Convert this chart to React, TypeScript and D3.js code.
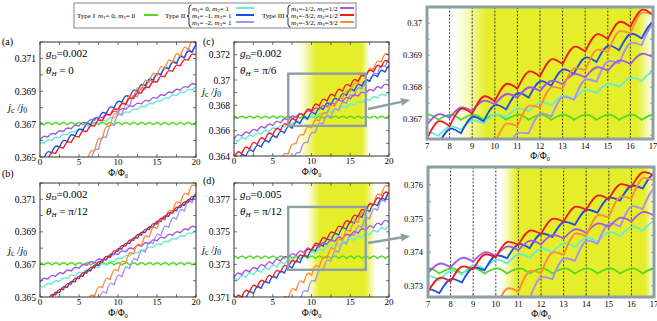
import React from 'react';
import * as d3 from 'd3';

const FONT = 'Liberation Serif, Times New Roman, serif';

// series order: Type I (m1=0,m2=0), Type II (0,1), (-1,1), (-2,1), Type III (-1/2,1/2), (-3/2,1/2), (-3/2,3/2)
const SERIES_NAMES = ['I_00', 'II_01', 'II_m11', 'II_m21', 'III_h', 'III_3h', 'III_33'];
const COLORS = ['#4fdc1f', '#66ecd4', '#1f4ee6', '#a392f4', '#a456e6', '#ee1c1c', '#ff8b3a'];
// cusps at half-integer flux (Φ = -0.5, 0.5, ...) for Type I/II, at integer flux (Φ = 0, 1, ...) for Type III
const HALF_STEP = [true, true, true, true, false, false, false];

// ---------- panel (a): gD=0.002, θH=0 ----------
const aGreen = [0.36696, 0.36696, 0.36696, 0.36696, 0.36696, 0.36696, 0.36696, 0.36696, 0.36696, 0.36696, 0.36696, 0.36696, 0.36696, 0.36696, 0.36696, 0.36696, 0.36696, 0.36696, 0.36696, 0.36696, 0.36696, 0.36696];
const aCyan = [0.36567, 0.36584, 0.36601, 0.36618, 0.36635, 0.36652, 0.3667, 0.36687, 0.36704, 0.36721, 0.36738, 0.36755, 0.36772, 0.36789, 0.36806, 0.36823, 0.3684, 0.36858, 0.36875, 0.36892, 0.36909, 0.36926];
const aBlue = [0.36458, 0.36492, 0.36526, 0.3656, 0.36594, 0.36628, 0.36662, 0.36696, 0.3673, 0.36764, 0.36798, 0.36832, 0.36866, 0.369, 0.36934, 0.36968, 0.37002, 0.37036, 0.3707, 0.37104, 0.37138, 0.37172];
const aLavender = [null, null, null, null, null, null, null, 0.36472, 0.36547, 0.36621, 0.36694, 0.36757, 0.36811, 0.36866, 0.36911, 0.36954, 0.36994, 0.37034, 0.37067, 0.37101, 0.37135, 0.37168];
const aPurple = [0.36605, 0.36622, 0.36639, 0.36655, 0.36672, 0.36689, 0.36706, 0.36723, 0.36739, 0.36756, 0.36773, 0.3679, 0.36807, 0.36823, 0.3684, 0.36857, 0.36874, 0.36891, 0.36907, 0.36924, 0.36941];
const aRed = [0.36455, 0.36488, 0.36522, 0.36555, 0.36589, 0.36622, 0.36655, 0.36689, 0.36722, 0.36756, 0.36789, 0.36822, 0.36856, 0.36889, 0.36923, 0.36956, 0.36989, 0.37023, 0.37056, 0.3709, 0.37123];
const aOrange = [null, null, null, null, null, null, 0.36464, 0.36539, 0.36614, 0.36689, 0.36764, 0.3682, 0.36864, 0.36909, 0.36954, 0.36994, 0.37034, 0.37074, 0.37114, 0.37152, 0.37189];
const aBump = [0.00014, 0.00011, 0.00024, 0.00036, 0.00013, 0.0002, 0.00036];

// ---------- panel (b): gD=0.002, θH=π/12 ----------
const bGreen = [0.36697, 0.36697, 0.36697, 0.36697, 0.36697, 0.36697, 0.36697, 0.36697, 0.36697, 0.36697, 0.36697, 0.36697, 0.36697, 0.36697, 0.36697, 0.36697, 0.36697, 0.36697, 0.36697, 0.36697, 0.36697, 0.36697];
const bCyan = [0.36544, 0.36562, 0.36579, 0.36596, 0.36614, 0.36631, 0.36648, 0.36666, 0.36683, 0.367, 0.36717, 0.36735, 0.36752, 0.36769, 0.36787, 0.36804, 0.36821, 0.36839, 0.36856, 0.36873, 0.3689, 0.36908];
const bBlue = [0.36426, 0.3646, 0.36493, 0.36527, 0.3656, 0.36594, 0.36627, 0.36661, 0.36694, 0.36728, 0.36761, 0.36795, 0.36829, 0.36862, 0.36896, 0.36929, 0.36963, 0.36996, 0.3703, 0.37063, 0.37097, 0.3713];
const bLavender = [null, null, null, null, null, null, null, null, 0.36474, 0.36524, 0.36575, 0.36625, 0.36675, 0.36726, 0.36776, 0.36827, 0.36877, 0.36927, 0.36978, 0.37028, 0.37079, 0.37129];
const bPurple = [0.36593, 0.3661, 0.36627, 0.36643, 0.3666, 0.36677, 0.36694, 0.36711, 0.36727, 0.36744, 0.36761, 0.36778, 0.36795, 0.36811, 0.36828, 0.36845, 0.36862, 0.36879, 0.36895, 0.36912, 0.36929];
const bRed = [0.36446, 0.36479, 0.36513, 0.36546, 0.3658, 0.36613, 0.36647, 0.3668, 0.36714, 0.36747, 0.36781, 0.36814, 0.36848, 0.36881, 0.36915, 0.36948, 0.36982, 0.37015, 0.37049, 0.37082, 0.37116];
const bOrange = [null, null, null, null, null, null, 0.36452, 0.36504, 0.36556, 0.36608, 0.3666, 0.36712, 0.36764, 0.36816, 0.36868, 0.3692, 0.36972, 0.37024, 0.37076, 0.37128, 0.3718];
const bBump = [0.00013, 0.00012, 0.00019, 0.00034, 0.00014, 0.00019, 0.00034];

// ---------- panel (c): gD=0.002, θH=π/6 ----------
const cGreen = [0.36698, 0.36698, 0.36698, 0.36698, 0.36698, 0.36698, 0.36698, 0.36698, 0.36698, 0.36698, 0.36698, 0.36698, 0.36698, 0.36698, 0.36698, 0.36698, 0.36698, 0.36698, 0.36698, 0.36698, 0.36698, 0.36698];
const cCyan = [0.36496, 0.36515, 0.36534, 0.36553, 0.36572, 0.36591, 0.3661, 0.36629, 0.36648, 0.36667, 0.36686, 0.36705, 0.36724, 0.36743, 0.36762, 0.36781, 0.368, 0.36819, 0.36838, 0.36857, 0.36876, 0.36895];
const cBlue = [0.36323, 0.3636, 0.36397, 0.36434, 0.36471, 0.36508, 0.36545, 0.36582, 0.36619, 0.36656, 0.36693, 0.3673, 0.36767, 0.36804, 0.36841, 0.36878, 0.36915, 0.36952, 0.36989, 0.37026, 0.37063, 0.371];
const cLavender = [null, null, null, null, null, null, null, null, 0.36348, 0.36428, 0.36508, 0.36588, 0.36656, 0.36708, 0.3676, 0.36817, 0.36874, 0.36931, 0.36989, 0.37047, 0.37105, 0.37163];
const cPurple = [0.36536, 0.36557, 0.36578, 0.36599, 0.3662, 0.36641, 0.36662, 0.36683, 0.36704, 0.36725, 0.36746, 0.36767, 0.36788, 0.36809, 0.3683, 0.36851, 0.36872, 0.36893, 0.36914, 0.36935, 0.36956];
const cRed = [0.3638, 0.36417, 0.36454, 0.36491, 0.36528, 0.36565, 0.36602, 0.36639, 0.36678, 0.36717, 0.36756, 0.36795, 0.36833, 0.36872, 0.36911, 0.3695, 0.36988, 0.37025, 0.37063, 0.37101, 0.37139];
const cOrange = [null, null, null, null, null, null, 0.36348, 0.36418, 0.36498, 0.36568, 0.36623, 0.36678, 0.36736, 0.36794, 0.36852, 0.3691, 0.36968, 0.37026, 0.37084, 0.37142, 0.372];
const cBump = [0.00016, 0.0002, 0.00033, 0.00036, 0.00022, 0.00035, 0.00036];

// ---------- panel (d): gD=0.005, θH=π/12 ----------
const dGreen = [0.37337, 0.37337, 0.37337, 0.37337, 0.37337, 0.37337, 0.37337, 0.37337, 0.37337, 0.37337, 0.37337, 0.37337, 0.37337, 0.37337, 0.37337, 0.37337, 0.37337, 0.37337, 0.37337, 0.37337, 0.37337, 0.37337];
const dCyan = [0.37187, 0.37203, 0.3722, 0.37236, 0.37252, 0.37268, 0.37285, 0.37301, 0.37317, 0.37334, 0.3735, 0.37366, 0.37383, 0.37399, 0.37415, 0.37431, 0.37448, 0.37464, 0.3748, 0.37497, 0.37513, 0.37529];
const dBlue = [0.37028, 0.37059, 0.3709, 0.37122, 0.37153, 0.37184, 0.37216, 0.37247, 0.37278, 0.3731, 0.37346, 0.37382, 0.37412, 0.37445, 0.37481, 0.37517, 0.37553, 0.37589, 0.37625, 0.37661, 0.37697, 0.37733];
const dLavender = [null, null, null, null, null, null, null, null, null, 0.37073, 0.37133, 0.37198, 0.37263, 0.3732, 0.37374, 0.37425, 0.37476, 0.37528, 0.3758, 0.37633, 0.37686, 0.37739];
const dPurple = [0.37219, 0.37236, 0.37253, 0.3727, 0.37287, 0.37304, 0.37321, 0.37338, 0.37355, 0.37372, 0.37389, 0.37406, 0.37423, 0.3744, 0.37457, 0.37474, 0.37491, 0.37508, 0.37525, 0.37542, 0.37559];
const dRed = [0.37068, 0.37099, 0.3713, 0.3716, 0.37191, 0.37221, 0.37252, 0.37282, 0.37313, 0.37349, 0.37385, 0.37422, 0.37454, 0.37491, 0.37526, 0.37557, 0.37593, 0.37628, 0.37664, 0.377, 0.37736];
const dOrange = [null, null, null, null, null, null, 0.37045, 0.37093, 0.3714, 0.37188, 0.37233, 0.37283, 0.37338, 0.37393, 0.37448, 0.37503, 0.37558, 0.37613, 0.37668, 0.37723, 0.37778];
const dBump = [0.00015, 0.0002, 0.00027, 0.00035, 0.0002, 0.00027, 0.00035];

// shaded (yellow) flux window: [fade-in start, full, full end, fade-out end]
const cShade = [8.2, 10.6, 16.5, 17.5];
const dShade = [9.3, 11.0, 16.9, 18.3];
const cZoomShade = [8.2, 9.6, 16.3, 17.0];
const dZoomShade = [10.2, 10.9, 16.6, 17.0];

// ticks
const X_TICKS = [0, 5, 10, 15, 20];
const AB_Y_TICKS = [0.365, 0.367, 0.369, 0.371];
const C_Y_TICKS = [0.364, 0.366, 0.368, 0.37, 0.372];
const D_Y_TICKS = [0.371, 0.373, 0.375, 0.377];
const ZOOM_X_TICKS = [7, 8, 9, 10, 11, 12, 13, 14, 15, 16, 17];
const ZOOM_C_Y_TICKS = [0.367, 0.368, 0.369, 0.37];
const ZOOM_D_Y_TICKS = [0.373, 0.374, 0.375, 0.376];
const DOTTED = [8, 9, 10, 11, 12, 13, 14, 15, 16];

const fmt = (v: number) => String(+v.toFixed(3));

function seriesPath(values: (number | null)[], half: boolean, bump: number, x: any, y: any) {
  const start = half ? -0.5 : 0;
  const line = d3.line<[number, number]>().x(d => x(d[0])).y(d => y(d[1])).curve(d3.curveMonotoneX);
  let path = '';
  for (let i = 0; i < values.length - 1; i++) {
    const c0 = values[i];
    const c1 = values[i + 1];
    if (c0 == null || c1 == null) continue;
    const x0 = start + i;
    const pts: [number, number][] = [[x0, c0], [x0 + 0.56, (c0 + c1) / 2 + bump], [x0 + 1, c1]];
    path += line(pts) || '';
  }
  return path;
}

const DRAW_ORDER = [0, 1, 3, 2, 4, 6, 5];

function Curves({ data, bumps, x, y, width, clip }: any) {
  return (
    <g clipPath={`url(#${clip})`}>
      {DRAW_ORDER.map(k => (
        <path key={SERIES_NAMES[k]} d={seriesPath(data[k], HALF_STEP[k], bumps[k], x, y)} fill="none"
          stroke={COLORS[k]} strokeWidth={width} strokeLinejoin="round" strokeLinecap="round" />
      ))}
    </g>
  );
}

function Shade({ id, stops, x, top, bottom }: any) {
  const x0 = x(stops[0]);
  const x3 = x(stops[3]);
  const w = x3 - x0;
  const o1 = (x(stops[1]) - x0) / w;
  const o2 = (x(stops[2]) - x0) / w;
  const col = '#e6ee2c';
  return (
    <g>
      <defs>
        <linearGradient id={id} x1="0" x2="1" y1="0" y2="0">
          <stop offset="0" stopColor={col} stopOpacity={0} />
          <stop offset={o1 * 0.45} stopColor={col} stopOpacity={0.35} />
          <stop offset={o1} stopColor={col} stopOpacity={1} />
          <stop offset={o2} stopColor={col} stopOpacity={1} />
          <stop offset="1" stopColor={col} stopOpacity={0} />
        </linearGradient>
      </defs>
      <rect x={x0} y={top} width={w} height={bottom - top} fill={`url(#${id})`} />
    </g>
  );
}

function Jc({ x, y }: any) {
  return (
    <text x={x} y={y} fontFamily={FONT} fontSize={11}>
      <tspan fontStyle="italic">j</tspan>
      <tspan fontSize={7.5} dy={2}>c</tspan>
      <tspan dy={-2}> /</tspan>
      <tspan fontStyle="italic">j</tspan>
      <tspan fontSize={7.5} dy={2}>0</tspan>
    </text>
  );
}

function PhiLabel({ x, y, size }: any) {
  return (
    <text x={x} y={y} fontFamily={FONT} fontSize={size} textAnchor="middle">
      <tspan>Φ/Φ</tspan>
      <tspan fontSize={size * 0.65} dy={2}>0</tspan>
    </text>
  );
}

function Params({ x, y, g, theta }: any) {
  return (
    <g fontFamily={FONT} fontSize={11}>
      <text x={x} y={y}>
        <tspan fontStyle="italic">g</tspan>
        <tspan fontSize={7} dy={2}>D</tspan>
        <tspan dy={-2}>={g}</tspan>
      </text>
      <text x={x} y={y + 17}>
        <tspan fontStyle="italic">θ</tspan>
        <tspan fontSize={7} dy={2} fontStyle="italic">H</tspan>
        <tspan dy={-2}> = {theta}</tspan>
      </text>
    </g>
  );
}

function MainPanel({ id, left, right, top, bottom, yDomain, data, bumps, yTicks, shade, inset, label, g, theta, labelY }: any) {
  const x = d3.scaleLinear().domain([0, 20]).range([left, right]);
  const y = d3.scaleLinear().domain(yDomain).range([bottom, top]);
  const minorY = d3.range(Math.ceil(yDomain[0] * 1000 - 1e-6), yDomain[1] * 1000 + 1e-6, 1).map(v => v / 1000);
  const minorX = d3.range(0, 20.01, 2.5);
  return (
    <g>
      <defs>
        <clipPath id={`clip-${id}`}>
          <rect x={left} y={top} width={right - left} height={bottom - top} />
        </clipPath>
      </defs>
      <rect x={left} y={top} width={right - left} height={bottom - top} fill="#fff" />
      {shade && <Shade id={`shade-${id}`} stops={shade} x={x} top={top} bottom={bottom} />}
      <Curves data={data} bumps={bumps} x={x} y={y} width={1.4} clip={`clip-${id}`} />
      {inset && (
        <rect x={x(inset[0])} y={y(inset[3])} width={x(inset[1]) - x(inset[0])} height={y(inset[2]) - y(inset[3])}
          fill="none" stroke="#8e9fa6" strokeWidth={2.4} />
      )}
      <rect x={left} y={top} width={right - left} height={bottom - top} fill="none" stroke="#333" strokeWidth={1} />
      {minorY.map(v => (
        <g key={'my' + v} stroke="#333" strokeWidth={0.7}>
          <line x1={left} x2={left + 3} y1={y(v)} y2={y(v)} />
          <line x1={right} x2={right - 3} y1={y(v)} y2={y(v)} />
        </g>
      ))}
      {minorX.map(v => (
        <g key={'mx' + v} stroke="#333" strokeWidth={0.7}>
          <line x1={x(v)} x2={x(v)} y1={bottom} y2={bottom - 3} />
          <line x1={x(v)} x2={x(v)} y1={top} y2={top + 3} />
        </g>
      ))}
      {yTicks.map((v: number) => (
        <text key={'yt' + v} x={left - 4} y={y(v) + 3.5} fontFamily={FONT} fontSize={9.5} textAnchor="end">{fmt(v)}</text>
      ))}
      {X_TICKS.map(v => (
        <text key={'xt' + v} x={x(v)} y={bottom + 8} fontFamily={FONT} fontSize={9} textAnchor="middle">{v}</text>
      ))}
      <PhiLabel x={(left + right) / 2} y={bottom + 18.5} size={9.5} />
      <Jc x={left - 32} y={labelY} />
      <Params x={left + 6} y={top + 15} g={g} theta={theta} />
      <text x={label[0]} y={label[1]} fontFamily={FONT} fontSize={10}>{label[2]}</text>
    </g>
  );
}

function ZoomPanel({ id, left, right, top, bottom, yDomain, data, bumps, yTicks, shade }: any) {
  const x = d3.scaleLinear().domain([7, 17]).range([left, right]);
  const y = d3.scaleLinear().domain(yDomain).range([bottom, top]);
  const minorY = d3.range(Math.ceil(yDomain[0] * 2000), yDomain[1] * 2000, 1).map(v => v / 2000);
  return (
    <g>
      <defs>
        <clipPath id={`clip-${id}`}>
          <rect x={left} y={top} width={right - left} height={bottom - top} />
        </clipPath>
      </defs>
      <rect x={left} y={top} width={right - left} height={bottom - top} fill="#fff" />
      <Shade id={`shade-${id}`} stops={shade} x={x} top={top} bottom={bottom} />
      {DOTTED.map(v => (
        <line key={'dl' + v} x1={x(v)} x2={x(v)} y1={top} y2={bottom} stroke="#111" strokeWidth={0.8} strokeDasharray="2,1.6" />
      ))}
      <Curves data={data} bumps={bumps} x={x} y={y} width={1.8} clip={`clip-${id}`} />
      {minorY.map(v => (
        <g key={'my' + v} stroke="#555" strokeWidth={0.7}>
          <line x1={left} x2={left + 3} y1={y(v)} y2={y(v)} />
          <line x1={right} x2={right - 3} y1={y(v)} y2={y(v)} />
        </g>
      ))}
      {ZOOM_X_TICKS.map(v => (
        <g key={'zx' + v}>
          <line x1={x(v)} x2={x(v)} y1={bottom} y2={bottom - 3} stroke="#555" strokeWidth={0.7} />
          <text x={x(v)} y={bottom + 10} fontFamily={FONT} fontSize={8.5} textAnchor="middle">{v}</text>
        </g>
      ))}
      {yTicks.map((v: number) => (
        <text key={'zy' + v} x={left - 5} y={y(v) + 3} fontFamily={FONT} fontSize={8.5} textAnchor="end">{fmt(v)}</text>
      ))}
      <rect x={left} y={top} width={right - left} height={bottom - top} fill="none" stroke="#8e9fa6" strokeWidth={3} />
      <PhiLabel x={(left + right) / 2} y={bottom + 19.5} size={9.5} />
    </g>
  );
}

function Arrow({ x1, y1, x2, y2 }: any) {
  const ang = Math.atan2(y2 - y1, x2 - x1);
  const L = 9;
  const W = 4;
  const bx = x2 - L * Math.cos(ang);
  const by = y2 - L * Math.sin(ang);
  const px = -Math.sin(ang) * W;
  const py = Math.cos(ang) * W;
  return (
    <g>
      <line x1={x1} y1={y1} x2={bx} y2={by} stroke="#8e9fa6" strokeWidth={2.5} />
      <polygon points={`${x2},${y2} ${bx + px},${by + py} ${bx - px},${by - py}`} fill="#8e9fa6" />
    </g>
  );
}

function Brace({ x, top, bottom }: any) {
  const mid = (top + bottom) / 2;
  const d = `M${x + 2.5},${top} Q${x},${top} ${x},${top + 3} L${x},${mid - 2} Q${x},${mid} ${x - 2},${mid} Q${x},${mid} ${x},${mid + 2} L${x},${bottom - 3} Q${x},${bottom} ${x + 2.5},${bottom}`;
  return <path d={d} fill="none" stroke="#000" strokeWidth={0.8} />;
}

function mLabel(x: number, y: number, m1: string, m2: string, key: string) {
  return (
    <text key={key} x={x} y={y} fontFamily={FONT} fontSize={7}>
      <tspan fontStyle="italic">m</tspan>
      <tspan fontSize={5} dy={1.5}>1</tspan>
      <tspan dy={-1.5}>={m1}, </tspan>
      <tspan fontStyle="italic">m</tspan>
      <tspan fontSize={5} dy={1.5}>2</tspan>
      <tspan dy={-1.5}>={m2}</tspan>
    </text>
  );
}

function Legend() {
  const rows = [10.5, 17.5, 24.5];
  const t2 = [[' 0', ' 1'], [' -1', ' 1'], [' -2', ' 1']];
  const t3 = [['-1/2', '1/2'], ['-3/2', '1/2'], ['-3/2', '3/2']];
  return (
    <g>
      <rect x={74} y={3} width={282} height={25} fill="#fff" stroke="#666" strokeWidth={0.8} />
      <text x={77} y={17.5} fontFamily={FONT} fontSize={7}>Type I </text>
      {mLabel(98, 17.5, ' 0', ' 0', 'l0')}
      <line x1={144} x2={158} y1={15} y2={15} stroke={COLORS[0]} strokeWidth={2} />
      <text x={165} y={17.5} fontFamily={FONT} fontSize={7}>Type II</text>
      <Brace x={189} top={5} bottom={27} />
      {rows.map((r, i) => mLabel(192, r, t2[i][0], t2[i][1], 'l2' + i))}
      {rows.map((r, i) => (
        <line key={'s2' + i} x1={236} x2={254} y1={r - 2.5} y2={r - 2.5} stroke={COLORS[1 + i]} strokeWidth={2} />
      ))}
      <text x={262} y={17.5} fontFamily={FONT} fontSize={7}>Type III</text>
      <Brace x={288} top={5} bottom={27} />
      {rows.map((r, i) => mLabel(291, r, t3[i][0], t3[i][1], 'l3' + i))}
      {rows.map((r, i) => (
        <line key={'s3' + i} x1={340} x2={354} y1={r - 2.5} y2={r - 2.5} stroke={COLORS[4 + i]} strokeWidth={2} />
      ))}
    </g>
  );
}

export default function App() {
  const aData = [aGreen, aCyan, aBlue, aLavender, aPurple, aRed, aOrange];
  const bData = [bGreen, bCyan, bBlue, bLavender, bPurple, bRed, bOrange];
  const cData = [cGreen, cCyan, cBlue, cLavender, cPurple, cRed, cOrange];
  const dData = [dGreen, dCyan, dBlue, dLavender, dPurple, dRed, dOrange];
  const zoomCDomain = [0.36638, 0.3705];
  const zoomDDomain = [0.37267, 0.37653];
  return (
    <svg width={657} height={321} style={{ position: 'absolute', left: 0, top: 0, background: '#fff' }}>
      <rect x={0} y={0} width={657} height={321} fill="#fff" />
      <Legend />
      <MainPanel id="a" left={40} right={196} top={42} bottom={157} yDomain={[0.365, 0.372]} data={aData} bumps={aBump}
        yTicks={AB_Y_TICKS} label={[2, 45, '(a)']} g="0.002" theta="0" labelY={111} />
      <MainPanel id="b" left={40} right={196} top={183} bottom={297} yDomain={[0.365, 0.372]} data={bData} bumps={bBump}
        yTicks={AB_Y_TICKS} label={[2, 177, '(b)']} g="0.002" theta="π/12" labelY={254} />
      <MainPanel id="c" left={234} right={389} top={42} bottom={156} yDomain={[0.364, 0.373]} data={cData} bumps={cBump}
        yTicks={C_Y_TICKS} shade={cShade} inset={[7, 17, zoomCDomain[0], zoomCDomain[1]]} label={[203, 45, '(c)']} g="0.002" theta="π/6" labelY={95} />
      <MainPanel id="d" left={234} right={389} top={183} bottom={297} yDomain={[0.371, 0.378]} data={dData} bumps={dBump}
        yTicks={D_Y_TICKS} shade={dShade} inset={[7, 17, zoomDDomain[0], zoomDDomain[1]]} label={[203, 184, '(d)']} g="0.005" theta="π/12" labelY={253} />
      <ZoomPanel id="zc" left={427} right={653} top={7} bottom={139} yDomain={zoomCDomain} data={cData} bumps={cBump}
        yTicks={ZOOM_C_Y_TICKS} shade={cZoomShade} />
      <ZoomPanel id="zd" left={428} right={654} top={167} bottom={297} yDomain={zoomDDomain} data={dData} bumps={dBump}
        yTicks={ZOOM_D_Y_TICKS} shade={dZoomShade} />
      <Arrow x1={368} y1={109} x2={410} y2={100} />
      <Arrow x1={368} y1={243} x2={410} y2={236} />
    </svg>
  );
}
